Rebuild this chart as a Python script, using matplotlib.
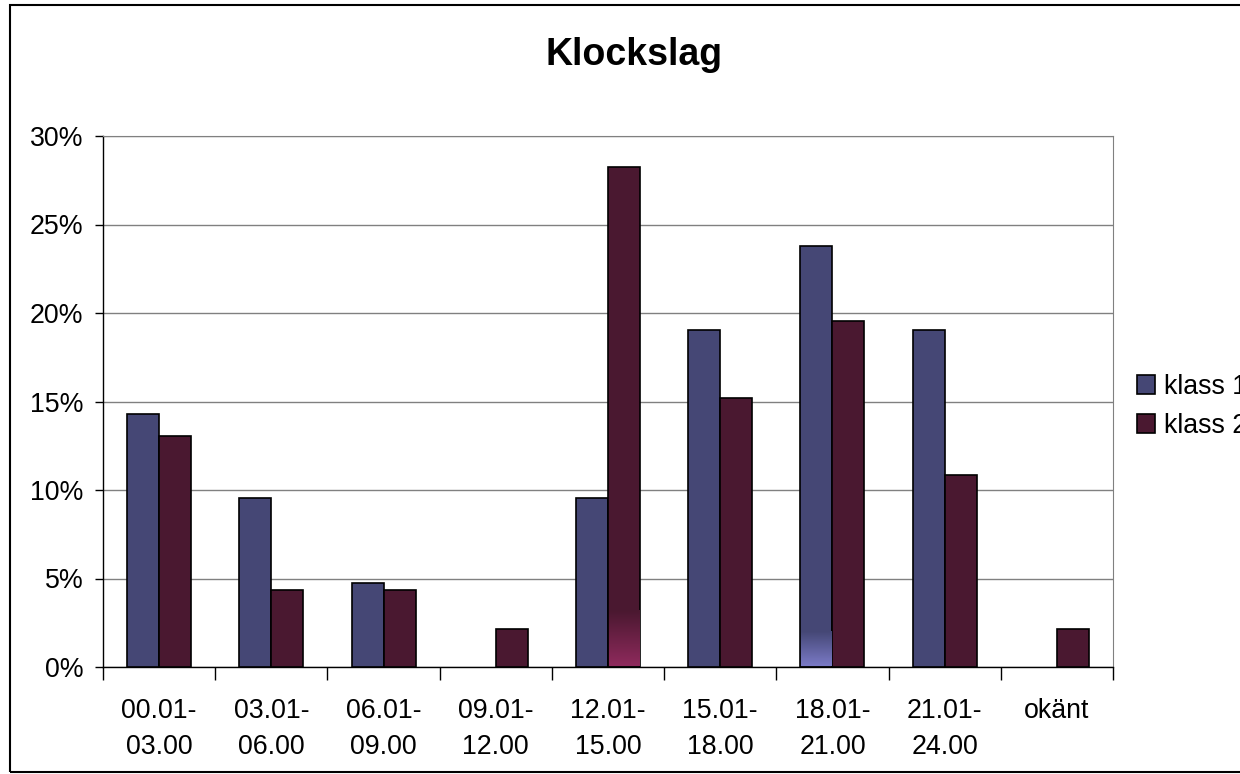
import matplotlib.pyplot as plt
import numpy as np
from matplotlib.colors import LinearSegmentedColormap
from matplotlib.patches import Rectangle

plt.rcParams['font.family'] = ['Liberation Sans', 'DejaVu Sans']

kategorier = ['00.01-\n03.00', '03.01-\n06.00', '06.01-\n09.00', '09.01-\n12.00',
              '12.01-\n15.00', '15.01-\n18.00', '18.01-\n21.00', '21.01-\n24.00', 'okänt']
klass1 = [14.29, 9.52, 4.76, 0, 9.52, 19.05, 23.81, 19.05, 0]
klass2 = [13.04, 4.35, 4.35, 2.17, 28.26, 15.22, 19.57, 10.87, 2.17]
y_ticks = [0, 5, 10, 15, 20, 25, 30]

fig = plt.figure(figsize=(12.4, 7.74), dpi=100)
ax = fig.add_axes([103/1240, 107/774, 1010/1240, 531/774])

x = list(range(len(kategorier)))
w = 0.285
b1 = ax.bar([i - w/2 for i in x], klass1, width=w, color='#454775', edgecolor='black',
            linewidth=[1.2 if v > 0 else 0 for v in klass1], label='klass 1', zorder=3)
b2 = ax.bar([i + w/2 for i in x], klass2, width=w, color='#4a1830', edgecolor='black',
            linewidth=[1.2 if v > 0 else 0 for v in klass2], label='klass 2', zorder=3)

# faint colour wash at the foot of two bars, as in the original export
def wash(bar, top_col, bottom_col, h):
    cmap = LinearSegmentedColormap.from_list('w', [bottom_col, top_col])
    grad = np.linspace(0, 1, 64).reshape(-1, 1)
    ax.imshow(grad, cmap=cmap, aspect='auto', origin='lower', zorder=3.5,
              extent=[bar.get_x() + 0.006, bar.get_x() + bar.get_width() - 0.006, 0.05, h])

wash(b2[4], '#4a1830', '#8e2a5c', 3.2)
wash(b1[6], '#454775', '#7a7ac6', 2.0)

ax.set_xlim(-0.5, len(kategorier) - 0.5)
ax.set_ylim(0, 30)
ax.set_yticks(y_ticks)
ax.set_yticklabels([f'{v}%' for v in y_ticks], fontsize=19.3)
ax.yaxis.grid(True, color='#808080', linewidth=1, zorder=0)

# category labels centred, tick marks on boundaries
ax.set_xticks(x)
ax.set_xticklabels(kategorier, fontsize=19.3, linespacing=1.5)
ax.tick_params(axis='x', length=0, pad=22)
ax.set_xticks([i - 0.5 for i in range(len(kategorier) + 1)], minor=True)
ax.tick_params(axis='x', which='minor', length=9, width=1, color='black', direction='out')
ax.tick_params(axis='y', length=6, width=1, color='black', pad=8)

for s in ['top', 'right']:
    ax.spines[s].set_color('#808080')
for s in ['left', 'bottom']:
    ax.spines[s].set_color('black')
    ax.spines[s].set_linewidth(1)

fig.text(634/1240, 1 - 55/774, 'Klockslag', fontsize=27, fontweight='bold',
         ha='center', va='center')

fig.legend(loc='upper left', bbox_to_anchor=(1126/1240, 1 - 363/774), frameon=False,
           fontsize=19.3, handlelength=0.7, handleheight=0.7, handletextpad=0.3,
           labelspacing=0.5, borderaxespad=0)

fig.patches.append(Rectangle((10/1240, 2/774), 1.1, 1 - 7/774, transform=fig.transFigure,
                             fill=False, edgecolor='black', linewidth=1.5))

fig.savefig('out.png', dpi=100)
